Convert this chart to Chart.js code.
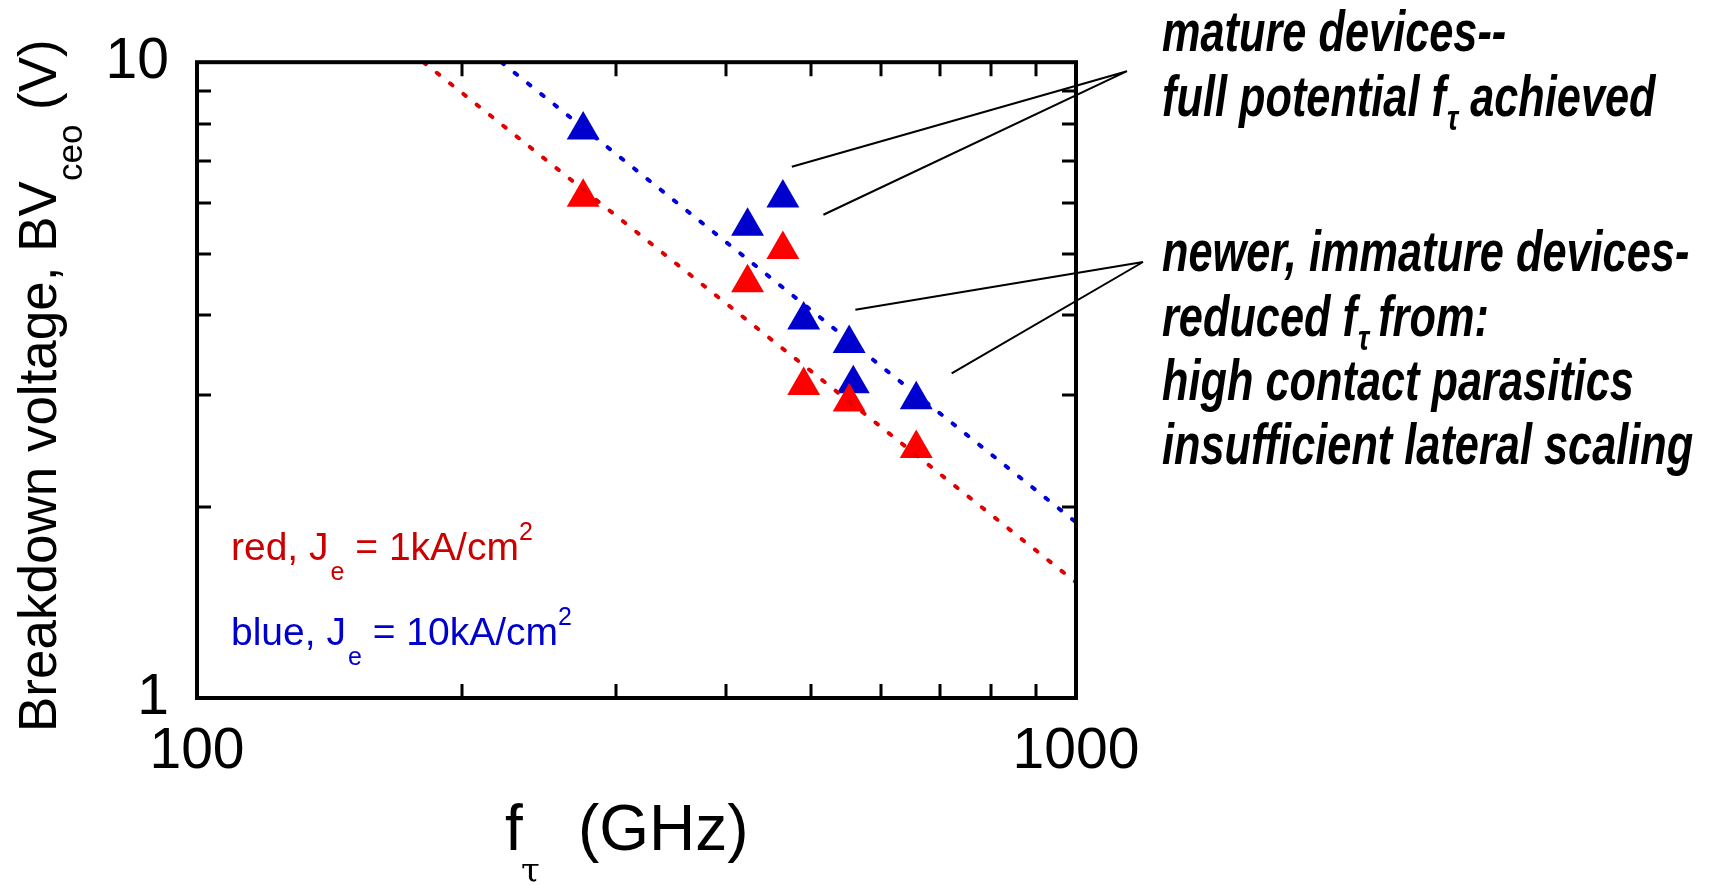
<!DOCTYPE html>
<html>
<head>
<meta charset="utf-8">
<title>BVceo vs ft</title>
<script src="https://cdn.jsdelivr.net/npm/chart.js@4.4.1/dist/chart.umd.min.js"></script>
<style>
  html, body { margin: 0; padding: 0; background: #fff; }
  canvas { display: block; }
</style>
</head>
<body>
<canvas id="bvChart" width="1714" height="885"></canvas>
<script>
// measured devices: f_tau (GHz) and breakdown voltage BVceo (V)
const blueFt = [275, 423, 464, 490, 552, 558, 658];
const blueBv = [7.82, 5.52, 6.115, 3.93, 3.61, 3.12, 2.944];
const redFt = [275, 423, 464, 490, 552, 658];
const redBv = [6.13, 4.50, 5.075, 3.10, 2.92, 2.468];

// constant current density trend lines
const blueFitFt = [222, 1000];
const blueFitBv = [10, 1.89];
const redFitFt = [181, 1000];
const redFitBv = [10, 1.52];

// labelled decades on each axis
const xTickLabels = [100, 1000];
const yTickLabels = [1, 10];

const RED = '#ff0000';
const BLUE = '#0000cc';

function toPoints(xs, ys) {
  return xs.map((x, i) => ({ x: x, y: ys[i] }));
}

// only 1..9 x 10^n get a tick mark
function isDecadeStep(v) {
  const m = v / Math.pow(10, Math.floor(Math.log10(v) + 1e-9));
  return Math.abs(m - Math.round(m)) < 1e-6;
}

// leader lines from the device groups to their notes, (f, V) at each end
const leaders = [
  { from: [475, 6.85], to: [1143, 9.68] },
  { from: [516, 5.755], to: [1143, 9.68] },
  { from: [561, 4.08], to: [1192, 4.85] },
  { from: [722, 3.24], to: [1192, 4.85] }
];

// narrow bold italic face if the system has one, else squeeze the regular one
function hasFont(name) {
  const c = document.createElement('canvas').getContext('2d');
  c.font = '40px monospace';
  const a = c.measureText('mmmmmiiiiiWWW').width;
  c.font = '40px "' + name + '", monospace';
  const b = c.measureText('mmmmmiiiiiWWW').width;
  return a !== b;
}
const narrow = hasFont('Liberation Sans Narrow');
const noteFamily = narrow ? '"Liberation Sans Narrow"' : '"Liberation Sans"';
const noteSx = narrow ? 0.93 : 0.76;
const noteFont = 'bold italic 57px ' + noteFamily;
const noteSub = 'bold italic 36px ' + noteFamily;

// draw a row of text runs (sub/superscripts via dy)
function drawRuns(ctx, x, y, runs, sx) {
  sx = sx || 1;
  for (const r of runs) {
    x += r.dx || 0;
    ctx.font = r.font;
    ctx.fillStyle = r.color || '#000';
    ctx.save();
    ctx.translate(x, y + (r.dy || 0));
    ctx.scale(sx, 1);
    ctx.fillText(r.text, 0, 0);
    ctx.restore();
    x += ctx.measureText(r.text).width * sx;
  }
}

const decorations = {
  id: 'decorations',
  afterDatasetsDraw(chart) {
    const ctx = chart.ctx;
    const a = chart.chartArea;
    const xs = chart.scales.x, ys = chart.scales.y;
    ctx.save();
    ctx.strokeStyle = '#000';
    // inward tick marks on all four sides
    ctx.lineWidth = 3;
    ctx.beginPath();
    xs.ticks.filter(t => isDecadeStep(t.value)).forEach(t => {
      const px = Math.round(xs.getPixelForValue(t.value));
      if (px <= a.left + 2 || px >= a.right - 2) return;
      ctx.moveTo(px, a.bottom); ctx.lineTo(px, a.bottom - 14);
      ctx.moveTo(px, a.top); ctx.lineTo(px, a.top + 14);
    });
    ys.ticks.filter(t => isDecadeStep(t.value)).forEach(t => {
      const py = Math.round(ys.getPixelForValue(t.value));
      if (py <= a.top + 2 || py >= a.bottom - 2) return;
      ctx.moveTo(a.left, py); ctx.lineTo(a.left + 14, py);
      ctx.moveTo(a.right, py); ctx.lineTo(a.right - 14, py);
    });
    ctx.stroke();
    // frame
    ctx.lineWidth = 4;
    ctx.strokeRect(a.left, a.top, a.right - a.left, a.bottom - a.top);
    ctx.restore();
  },
  afterDraw(chart) {
    const ctx = chart.ctx;
    const xs = chart.scales.x, ys = chart.scales.y;
    ctx.save();
    ctx.textBaseline = 'alphabetic';
    ctx.textAlign = 'left';

    // leader lines
    ctx.strokeStyle = '#000';
    ctx.lineWidth = 2;
    ctx.beginPath();
    leaders.forEach(l => {
      ctx.moveTo(xs.getPixelForValue(l.from[0]), ys.getPixelForValue(l.from[1]));
      ctx.lineTo(xs.getPixelForValue(l.to[0]), ys.getPixelForValue(l.to[1]));
    });
    ctx.stroke();

    // notes on the right
    const nx = 1162;
    drawRuns(ctx, nx, 51, [{ text: 'mature devices--', font: noteFont }], noteSx);
    drawRuns(ctx, nx, 116, [
      { text: 'full potential f', font: noteFont },
      { text: '\u03c4', font: noteSub, dy: 14, dx: 1 },
      { text: 'achieved', font: noteFont, dx: 12 }
    ], noteSx);
    drawRuns(ctx, nx, 271, [{ text: 'newer, immature devices-', font: noteFont }], noteSx);
    drawRuns(ctx, nx, 336, [
      { text: 'reduced f', font: noteFont },
      { text: '\u03c4', font: noteSub, dy: 14, dx: 1 },
      { text: 'from:', font: noteFont, dx: 9 }
    ], noteSx);
    drawRuns(ctx, nx, 400, [{ text: 'high contact parasitics', font: noteFont }], noteSx);
    drawRuns(ctx, nx, 464, [{ text: 'insufficient lateral scaling', font: noteFont }], noteSx);

    // current density key
    const kf = '39px "Liberation Sans"', ks = '25px "Liberation Sans"';
    const kr = '#cc0000', kb = '#0000cc';
    drawRuns(ctx, 231, 560, [
      { text: 'red, J', font: kf, color: kr },
      { text: 'e', font: ks, color: kr, dy: 20, dx: 2 },
      { text: ' = 1kA/cm', font: kf, color: kr },
      { text: '2', font: ks, color: kr, dy: -20 }
    ]);
    drawRuns(ctx, 231, 645, [
      { text: 'blue, J', font: kf, color: kb },
      { text: 'e', font: ks, color: kb, dy: 20, dx: 2 },
      { text: ' = 10kA/cm', font: kf, color: kb },
      { text: '2', font: ks, color: kb, dy: -20 }
    ]);

    // x axis title
    ctx.fillStyle = '#000';
    ctx.font = '64px "Liberation Sans"';
    ctx.fillText('f', 505, 850);
    ctx.font = '34px "DejaVu Serif"';
    ctx.fillText('\u03c4', 521, 882);
    ctx.font = '64px "Liberation Sans"';
    ctx.fillText('(GHz)', 578, 850);

    // y axis title, rotated
    ctx.translate(56, 732);
    ctx.rotate(-Math.PI / 2);
    drawRuns(ctx, 0, 0, [
      { text: 'Breakdown voltage, BV', font: '53px "Liberation Sans"' },
      { text: 'ceo', font: '35px "Liberation Sans"', dy: 26 },
      { text: ' (V)', font: '53px "Liberation Sans"' }
    ]);
    ctx.restore();
  }
};

const ctx = document.getElementById('bvChart');
new Chart(ctx, {
  type: 'scatter',
  data: {
    datasets: [
      {
        label: 'red fit',
        type: 'line',
        data: toPoints(redFitFt, redFitBv),
        borderColor: '#e00000',
        borderWidth: 4,
        borderDash: [3, 14],
        borderCapStyle: 'round',
        pointRadius: 0,
        fill: false,
        order: 0
      },
      {
        label: 'blue fit',
        type: 'line',
        data: toPoints(blueFitFt, blueFitBv),
        borderColor: '#0000dd',
        borderWidth: 4,
        borderDash: [3, 14],
        borderCapStyle: 'round',
        pointRadius: 0,
        fill: false,
        order: 0
      },
      {
        label: 'red, Je = 1kA/cm2',
        data: toPoints(redFt, redBv),
        pointStyle: 'triangle',
        pointRadius: 19,
        pointBorderWidth: 0,
        backgroundColor: RED,
        borderColor: RED,
        order: 1
      },
      {
        label: 'blue, Je = 10kA/cm2',
        data: toPoints(blueFt, blueBv),
        pointStyle: 'triangle',
        pointRadius: 19,
        pointBorderWidth: 0,
        backgroundColor: BLUE,
        borderColor: BLUE,
        order: 2
      }
    ]
  },
  options: {
    responsive: false,
    devicePixelRatio: 1,
    animation: false,
    events: [],
    layout: { padding: { left: 0, top: 59, right: 638, bottom: 0 } },
    plugins: {
      legend: { display: false },
      tooltip: { enabled: false }
    },
    scales: {
      x: {
        type: 'logarithmic',
        position: 'bottom',
        min: 100,
        max: 1000,
        grid: { display: false, drawTicks: false },
        border: { display: false },
        ticks: {
          autoSkip: false,
          maxRotation: 0,
          minRotation: 0,
          padding: 20,
          color: '#000',
          font: { family: 'Liberation Sans', size: 57 },
          callback: v => xTickLabels.includes(v) ? String(v) : ''
        },
        afterFit: s => { s.height = 187; }
      },
      y: {
        type: 'logarithmic',
        position: 'left',
        min: 1,
        max: 10,
        grid: { display: false, drawTicks: false },
        border: { display: false },
        ticks: {
          autoSkip: false,
          padding: 28,
          color: '#000',
          font: { family: 'Liberation Sans', size: 57 },
          callback: v => yTickLabels.includes(v) ? String(v) : ''
        },
        afterFit: s => { s.width = 197; }
      }
    }
  },
  plugins: [decorations]
});
</script>
</body>
</html>
